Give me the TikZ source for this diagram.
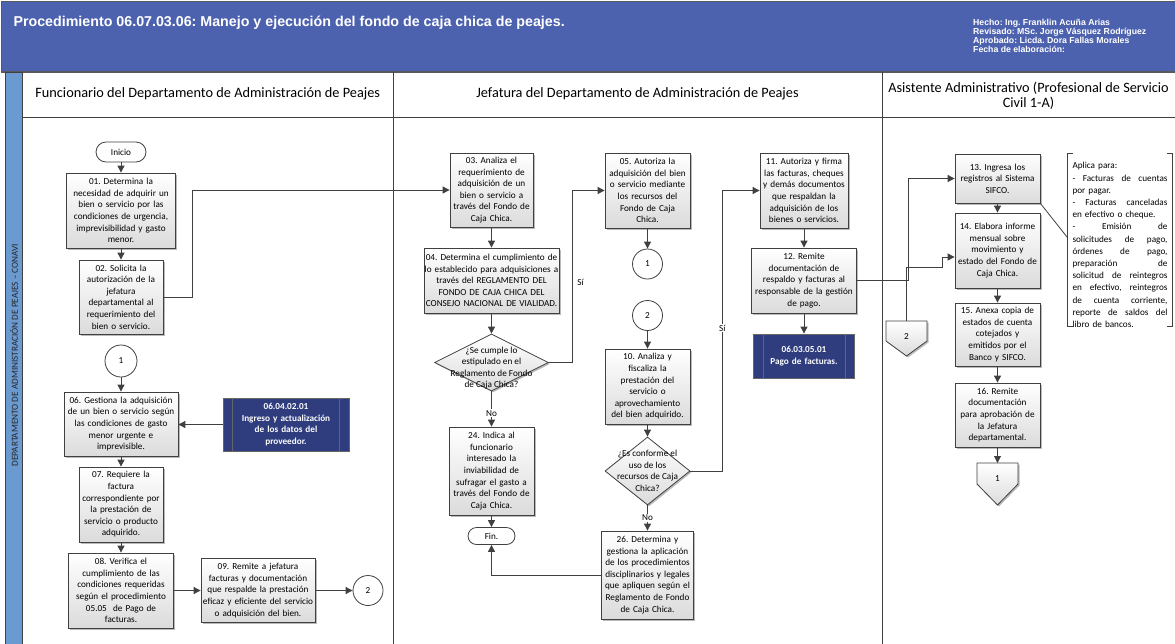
\documentclass[tikz,border=0pt]{standalone}
\usepackage{fontspec}
\setmainfont{Carlito}
\newfontfamily\arialf{Liberation Sans}
\usetikzlibrary{arrows.meta,shapes.geometric,shadows,calc}
\definecolor{hdrblue}{HTML}{4D62AF}
\definecolor{stripblue}{HTML}{6A9AD0}
\definecolor{navyc}{HTML}{2F3D7E}
\definecolor{linec}{HTML}{404040}
\newcommand\bxfont{\fontsize{9.2}{11.6}\selectfont}
\newcommand\jl[1]{\leavevmode\hbox to 95pt{\spaceskip=0.25em plus 1fil\relax#1}}
\frenchspacing
\begin{document}
\begin{tikzpicture}[x=1pt,y=-1pt,
  shadowed/.style={drop shadow={shadow xshift=1.5pt,shadow yshift=-1.5pt,fill=black!45,opacity=.6}},
  box/.style={draw=linec, line width=0.8pt, top color=white, bottom color=black!14, shadowed, font=\bxfont, align=center, inner xsep=0pt, inner ysep=1pt},
  bx/.style n args={2}{box, minimum width=#1, text width=#1, minimum height=#2},
  subp/.style n args={2}{draw=black!60, line width=0.8pt, fill=navyc, text=white, font=\bxfont\bfseries, align=center, minimum width=#1, text width=#1, inner xsep=0pt, minimum height=#2},
  conn/.style={circle, draw=linec, line width=0.8pt, fill=white, minimum size=30pt, inner sep=0pt, font=\bxfont},
  pill/.style={draw=linec, line width=0.8pt, fill=white, font=\bxfont},
  dia/.style={diamond, draw=linec, line width=0.8pt, top color=white, bottom color=black!14, shadowed, inner sep=0pt},
  dtext/.style={font=\bxfont, align=center},
  arr/.style={draw=linec, line width=0.9pt, -{Triangle[length=7pt,width=7pt]}},
  lbl/.style={font=\bxfont, fill=white, inner sep=1pt},
  offp/.style={draw=linec, line width=0.8pt, top color=white, bottom color=black!14, shadowed},
  lane/.style={draw=linec, line width=1pt},
  lanehead/.style={font=\fontsize{14.3}{15}\selectfont, align=center}
]
\useasboundingbox (0,0) rectangle (1175,643);
% header
\filldraw[fill=hdrblue, draw=black!65, line width=1.2pt] (1.5,1.5) rectangle (1176,72);
\node[anchor=west, text=white, font=\arialf\bfseries\fontsize{14.25}{16}\selectfont] (title) at (10,23) {Procedimiento 06.07.03.06: Manejo y ejecución del fondo de caja chica de peajes.};
\node[anchor=west, text=white, align=left, font=\arialf\bfseries\fontsize{8.7}{8.9}\selectfont, inner sep=0pt] (meta) at (973,36) {Hecho: Ing. Franklin Acuña Arias\\Revisado: MSc. Jorge Vásquez Rodríguez\\Aprobado: Licda. Dora Fallas Morales\\Fecha de elaboración:};
% strip and lanes
\filldraw[fill=stripblue, draw=linec, line width=0.8pt] (5.5,72) rectangle (22.5,645);
\node[rotate=90, font=\fontsize{9.2}{10}\selectfont, text=black!85] (dept) at (14,355) {DEPARTAMENTO DE ADMINISTRACIÓN DE PEAJES – CONAVI};
\draw[lane] (22.5,72) -- (22.5,645);
\draw[lane] (393,72) -- (393,645);
\draw[lane] (882,72) -- (882,645);
\draw[lane] (22.5,117) -- (1176,117);
\node[lanehead] (h1) at (207.7,94) {Funcionario del Departamento de Administración de Peajes};
\node[lanehead] (h2) at (637.5,94) {Jefatura del Departamento de Administración de Peajes};
\node[lanehead] (h3) at (1028.5,95.5) {Asistente Administrativo (Profesional de Servicio\\Civil 1-A)};

% left lane
\node[pill, minimum width=50pt, minimum height=20pt, rounded corners=10pt] (ini) at (121,152) {Inicio};
\node[bx={109pt}{75pt}] (n01) at (121,210.5) {01. Determina la\\necesidad de adquirir un\\bien o servicio por las\\condiciones de urgencia,\\imprevisibilidad y gasto\\menor.};
\node[bx={84pt}{74pt}] (n02) at (121,297) {02. Solicita la\\autorización de la\\jefatura\\departamental al\\requerimiento del\\bien o servicio.};
\node[conn, minimum size=32pt] (c1a) at (121,361) {1};
\node[bx={114pt}{64pt}] (n06) at (121,424) {06. Gestiona la adquisición\\de un bien o servicio según\\las condiciones de gasto\\menor urgente e\\imprevisible.};
\node[subp={126pt}{53pt}] (s1) at (286,424.5) {06.04.02.01\\Ingreso y actualización\\de los datos del\\proveedor.};
\draw[black!60, line width=0.8pt] ([xshift=10pt]s1.north west) -- ([xshift=10pt]s1.south west);
\draw[black!60, line width=0.8pt] ([xshift=-10pt]s1.north east) -- ([xshift=-10pt]s1.south east);
\node[bx={84pt}{75pt}] (n07) at (121,504.5) {07. Requiere la\\factura\\correspondiente por\\la prestación de\\servicio o producto\\adquirido.};
\node[bx={105pt}{75pt}] (n08) at (121,590.5) {08. Verifica el\\cumplimiento de las\\condiciones requeridas\\según el procedimiento\\05.05~ de Pago de\\facturas.};
\node[bx={114pt}{64pt}] (n09) at (258,590.5) {09. Remite a jefatura\\facturas y documentación\\que respalde la prestación\\eficaz y eficiente del servicio\\o adquisición del bien.};
\node[conn] (c2a) at (368,590.5) {2};

% middle lane
\node[bx={83pt}{74pt}] (n03) at (491.5,190) {03. Analiza el\\requerimiento de\\adquisición de un\\bien o servicio a\\través del Fondo de\\Caja Chica.};
\node[bx={135pt}{65pt}] (n04) at (491.5,280.5) {04. Determina el cumplimiento de\\lo establecido para adquisiciones a\\través del REGLAMENTO DEL\\FONDO DE CAJA CHICA DEL\\CONSEJO NACIONAL DE VIALIDAD.};
\node[dia, minimum width=114pt, minimum height=57pt] (d1) at (491.5,362.5) {};
\node[dtext] (d1t) at (491.5,368) {¿Se cumple lo\\estipulado en el\\Reglamento de Fondo\\de Caja Chica?};
\node[bx={85pt}{88pt}] (n24) at (491.5,471) {24. Indica al\\funcionario\\interesado la\\inviabilidad de\\sufragar el gasto a\\través del Fondo de\\Caja Chica.};
\node[pill, minimum width=47pt, minimum height=17pt, rounded corners=8.5pt, inner sep=0pt] (fin) at (491.5,536) {Fin.};
\node[bx={85pt}{75pt}] (n05) at (647.5,190.5) {05. Autoriza la\\adquisición del bien\\o servicio mediante\\los recursos del\\Fondo de Caja\\Chica.};
\node[conn] (c1b) at (647.5,264) {1};
\node[conn] (c2b) at (647.5,315.5) {2};
\node[bx={85pt}{75pt}] (n10) at (647.5,386.5) {10. Analiza y\\fiscaliza la\\prestación del\\servicio o\\aprovechamiento\\del bien adquirido.};
\node[dia, minimum width=85pt, minimum height=68pt] (d2) at (647.5,471) {};
\node[dtext] (d2t) at (647.5,471) {¿Es conforme el\\uso de los\\recursos de Caja\\Chica?};
\node[bx={92pt}{88pt}] (n26) at (647.5,575) {26. Determina y\\gestiona la aplicación\\de los procedimientos\\disciplinarios y legales\\que apliquen según el\\Reglamento de Fondo\\de Caja Chica.};
\node[bx={88pt}{75pt}] (n11) at (804,190.5) {11. Autoriza y firma\\las facturas, cheques\\y demás documentos\\que respaldan la\\adquisición de los\\bienes o servicios.};
\node[bx={105pt}{65pt}] (n12) at (804,280.5) {12. Remite\\documentación de\\respaldo y facturas al\\responsable de la gestión\\de pago.};
\node[subp={101pt}{44pt}] (s2) at (804,356) {06.03.05.01\\Pago de facturas.};
\draw[black!60, line width=0.8pt] ([xshift=10pt]s2.north west) -- ([xshift=10pt]s2.south west);
\draw[black!60, line width=0.8pt] ([xshift=-10pt]s2.north east) -- ([xshift=-10pt]s2.south east);

% right lane
\node[bx={85pt}{49pt}] (n13) at (997.5,178.5) {13. Ingresa los\\registros al Sistema\\SIFCO.};
\node[bx={85pt}{75pt}] (n14) at (997.5,250.5) {14. Elabora informe\\mensual sobre\\movimiento y\\estado del Fondo de\\Caja Chica.};
\node[bx={85pt}{63pt}] (n15) at (997.5,334.5) {15. Anexa copia de\\estados de cuenta\\cotejados y\\emitidos por el\\Banco y SIFCO.};
\node[bx={85pt}{64pt}] (n16) at (997.5,415) {16. Remite\\documentación\\para aprobación de\\la Jefatura\\departamental.};
\draw[offp] (977,463) -- (1018,463) -- (1018,484) -- (997.5,505) -- (977,484) -- cycle;
\coordinate (off1top) at (997.5,463);
\node[font=\bxfont] (off1) at (997.5,479) {1};
\draw[offp] (886,321) -- (927,321) -- (927,341) -- (906.5,356) -- (886,341) -- cycle;
\coordinate (off2top) at (906.5,321);
\node[font=\bxfont] (off2) at (906.5,337) {2};
\node[minimum width=104pt, minimum height=172pt, text width=95pt, inner sep=0pt, align=left, font=\fontsize{9.2}{12.2}\selectfont] (ann) at (1120,245) {Aplica para:\\\jl{- Facturas de cuentas}\\por pagar.\\\jl{- Facturas canceladas}\\en efectivo o cheque.\\\jl{- Emisión de}\\\jl{solicitudes de pago,}\\\jl{órdenes de pago,}\\\jl{preparación de}\\\jl{solicitud de reintegros}\\\jl{en efectivo, reintegros}\\\jl{de cuenta corriente,}\\\jl{reporte de saldos del}\\libro de bancos.};
\draw[linec, line width=0.8pt] ([xshift=5pt,yshift=5pt]ann.north west) -- ([yshift=5pt]ann.north west) -- ([yshift=5pt]ann.south west) -- ([xshift=5pt,yshift=5pt]ann.south west);
\draw[linec, line width=0.8pt] ([xshift=-5pt,yshift=5pt]ann.north east) -- ([yshift=5pt]ann.north east) -- ([yshift=5pt]ann.south east) -- ([xshift=-5pt,yshift=5pt]ann.south east);
\draw[linec, line width=0.8pt] (n13.south east) -- ($(ann.west)+(0,-7)$);

% connectors
\draw[arr] (ini) -- (n01);
\draw[arr] (n01) -- (n02);
\draw[arr] (n02.east) -- ++(29,0) |- (n03.west);
\draw[arr] (c1a) -- (n06);
\draw[arr] (s1.west) -- (n06.east |- s1.west);
\draw[arr] (n06) -- (n07);
\draw[arr] (n07) -- (n08);
\draw[arr] (n08) -- (n09);
\draw[arr] (n09) -- (c2a);
\draw[arr] (n03) -- (n04);
\draw[arr] (n04) -- (d1);
\draw[arr] (d1.south) -- node[lbl, pos=0.62] {No} (n24.north);
\draw[arr] (d1.east) -- ++(24,0) coordinate (k1) |- (n05.west);
\node[font=\bxfont, anchor=west] (si1) at ($(k1 |- 0,282)+(1,0)$) {Sí};
\draw[arr] (n24) -- (fin);
\draw[arr] (n05) -- (c1b);
\draw[arr] (c2b) -- (n10);
\draw[arr] (n10) -- (d2);
\draw[arr] (d2.south) -- node[lbl, pos=0.5] {No} (n26.north);
\draw[arr] (d2.east) -- ++(32,0) coordinate (k2) |- (n11.west);
\node[lbl] (si2) at (k2 |- 0,328) {Sí};
\draw[arr] (n26.west) -| (fin.south);
\draw[arr] (n11) -- (n12);
\draw[arr] (n12) -- (s2);
\draw[arr] (n12.east) -- ++(52,0) |- (n13.west);
\draw[arr] (n13) -- (n14);
\draw[arr] (n14) -- (n15);
\draw[arr] (n15) -- (n16);
\draw[arr] (n16) -- (off1top);
\draw[arr] (off2top) -- ++(0,-54) -| (942,257) -- ($(n14.west)+(0,6.5)$);
\end{tikzpicture}
\end{document}
